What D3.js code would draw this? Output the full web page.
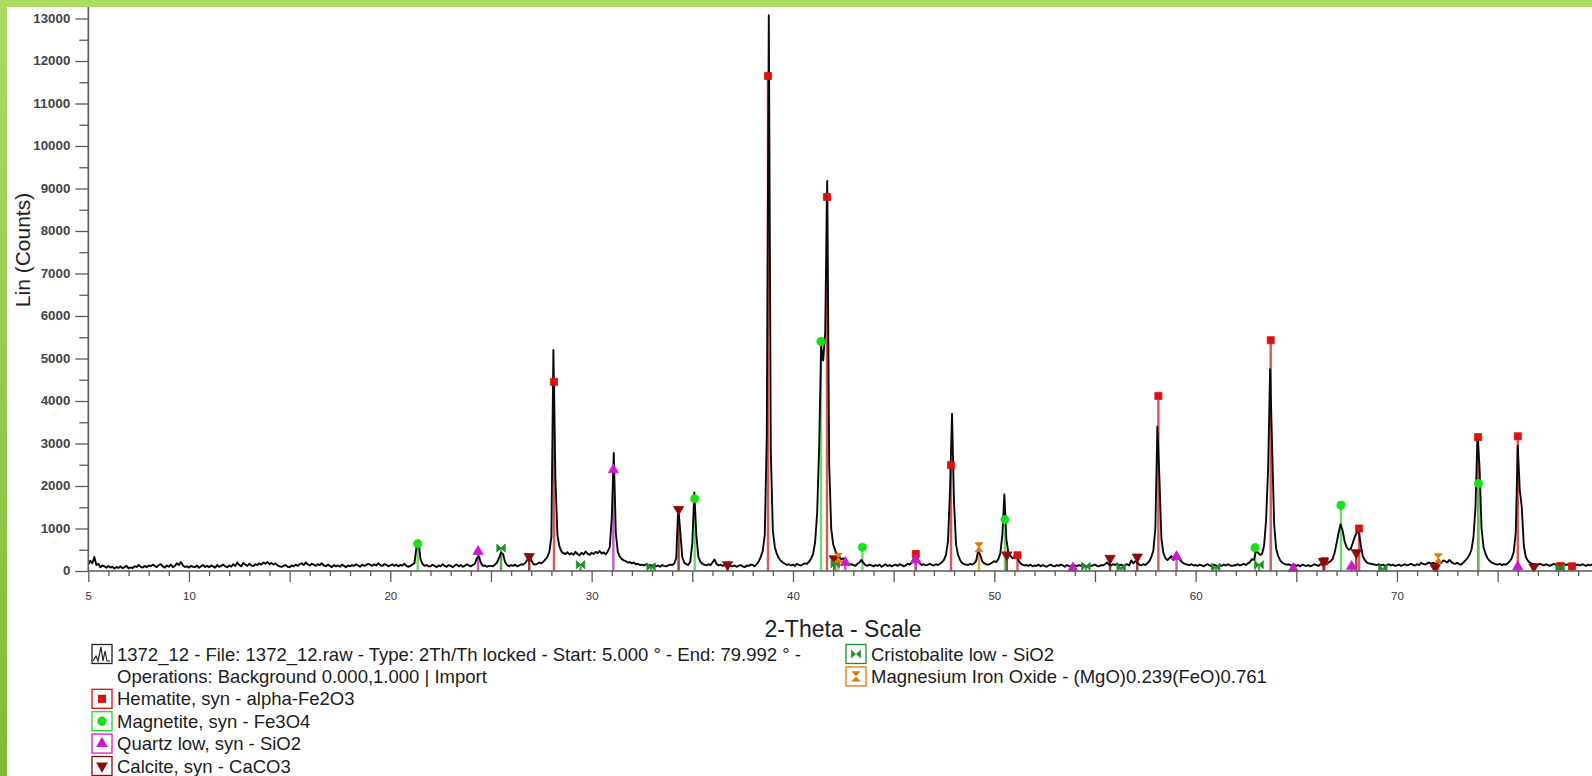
<!DOCTYPE html>
<html>
<head>
<meta charset="utf-8">
<script src="https://cdn.jsdelivr.net/npm/d3@7"></script>
<style>
html, body { margin: 0; padding: 0; background: #fff; overflow: hidden; }
svg { display: block; font-family: Arial, "Liberation Sans", sans-serif; }
</style>
</head>
<body>
<script>
// raw scan, 5.0 .. 80.0 deg 2-theta, 0.1 deg step (one row per degree)
var scanStart = 5.0, scanStep = 0.1;
var scanCounts = [
  150,240,180,330,140,170,90,130,110,75,
  120,80,100,60,95,70,110,65,90,120,
  60,85,70,110,95,140,100,80,120,90,
  130,110,150,120,90,140,160,110,80,130,
  100,150,90,120,180,140,210,130,95,110,
  80,120,100,90,130,75,110,140,95,120,
  90,130,110,80,140,100,120,150,110,90,
  130,100,160,120,200,140,110,190,150,120,
  170,130,120,160,140,180,150,200,170,210,
  160,190,150,180,130,110,95,120,140,100,
  90,130,110,150,120,160,180,140,200,160,
  130,170,150,120,160,140,180,130,110,150,
  120,90,140,110,130,100,150,120,90,130,
  110,140,120,160,130,100,150,120,140,170,
  150,120,160,130,180,140,120,160,150,110,
  130,160,120,150,110,140,130,170,120,100,
  120,150,190,560,720,280,170,120,140,110,
  110,150,120,90,130,110,160,120,100,140,
  120,90,130,150,110,140,100,120,160,130,
  110,140,170,300,350,190,120,130,100,120,
  120,110,150,200,310,430,400,210,140,110,
  140,120,150,110,130,160,150,190,260,380,
  250,170,150,170,200,180,220,270,330,450,
  800,5200,2200,850,580,460,420,400,440,390,
  420,380,450,400,370,430,390,460,410,380,
  430,400,450,420,470,410,440,390,460,560,
  1250,2780,900,450,340,280,250,230,200,210,
  180,200,160,170,140,150,130,160,120,140,
  120,150,110,130,100,140,120,110,130,150,
  140,170,300,1500,950,330,200,160,140,220,
  650,1850,850,340,220,170,150,130,160,140,
  200,270,170,130,150,120,140,110,130,120,
  110,130,100,120,140,110,90,130,120,150,
  140,110,160,230,330,480,850,3200,13080,2800,
  950,560,400,300,240,200,170,140,160,130,
  150,120,170,140,130,160,180,170,220,290,
  400,680,1350,2900,5300,4950,5600,9180,2500,1000,
  620,480,380,340,270,300,210,170,150,160,
  140,120,170,200,260,190,140,120,150,130,
  110,140,120,150,100,130,160,120,140,110,
  130,150,120,160,140,110,130,170,150,200,
  300,360,280,180,140,160,130,150,170,140,
  130,160,140,170,210,260,380,700,1900,3700,
  1600,620,380,260,190,160,150,140,170,150,
  180,240,480,380,230,180,160,150,170,200,
  230,210,280,420,850,1800,750,420,360,300,
  330,360,250,180,150,130,140,120,150,110,
  130,120,150,110,140,120,100,130,150,120,
  110,140,120,150,130,100,140,120,110,150,
  130,110,140,120,160,130,100,140,120,130,
  150,120,110,140,130,160,200,150,130,160,
  140,170,130,150,120,140,160,130,250,180,
  230,200,150,130,160,140,180,230,330,480,
  1000,3400,2200,760,420,300,260,300,350,260,
  300,340,280,220,180,160,150,140,160,130,
  140,120,150,130,110,140,160,130,120,150,
  130,110,140,120,150,130,160,140,120,130,
  140,160,130,150,170,140,180,210,280,260,
  480,430,380,400,600,1200,2400,4750,2900,1100,
  520,350,250,200,170,150,160,140,130,150,
  120,140,110,150,130,120,140,110,130,160,
  140,120,160,150,190,160,200,230,280,420,
  650,900,1100,950,700,560,500,520,650,800,
  900,950,620,350,260,200,180,170,160,150,
  140,160,130,150,120,140,160,130,150,120,
  130,150,120,140,160,130,150,170,140,130,
  160,140,190,170,150,180,200,170,190,160,
  180,220,190,250,230,200,260,210,180,170,
  190,160,150,200,250,300,380,500,800,1500,
  3200,2450,1000,560,400,300,240,200,180,160,
  150,170,140,160,150,180,230,300,450,900,
  2950,1900,1500,600,330,240,200,170,160,150,
  140,170,150,130,160,140,120,150,170,140,
  160,130,150,170,140,160,130,150,120,140,
  150,130,160,140,120,150,130,160,140,130,
  140
];

// phase reference sticks [2-theta, marker height]
var hematite = [[28.13,4450],[38.76,11650],[41.69,8800],[46.1,400],[47.85,2490],[51.15,370],[58.15,4120],[63.73,5430],[66.4,230],[68.12,1000],[74.03,3150],[76.0,3170],[78.1,120],[78.7,110]];
var magnetite = [[21.36,640],[35.12,1700],[41.39,5400],[43.45,560],[50.53,1210],[62.95,550],[67.22,1550],[74.05,2060]];
var quartz = [[24.36,460],[31.08,2380],[42.6,200],[46.1,260],[53.9,70],[59.05,340],[64.85,60],[67.75,110],[76.0,100]];
var calcite = [[26.9,340],[34.32,1450],[36.75,150],[42.05,290],[50.62,380],[55.75,300],[57.1,330],[66.35,230],[67.98,430],[71.9,80],[76.8,100]];
var cristobalite = [[25.5,540],[29.45,150],[32.95,100],[42.1,170],[54.55,110],[56.3,80],[61.0,90],[63.15,150],[69.3,60],[78.1,80]];
var mgFeOxide = [[42.25,310],[49.24,560],[72.05,300]];

var xTickLabels = [5, 10, 20, 30, 40, 50, 60, 70, 80];
var yTickLabels = [0,1000,2000,3000,4000,5000,6000,7000,8000,9000,10000,11000,12000,13000];

var scanLegend = ["1372_12 - File: 1372_12.raw - Type: 2Th/Th locked - Start: 5.000 ° - End: 79.992 ° -",
                  "Operations: Background 0.000,1.000 | Import"];

var W = 1592, H = 776;

var x = d3.scaleLinear().domain([5, 80]).range([88.3, 1598.3]);
var y = d3.scaleLinear().domain([0, 13000]).range([571, 18.5]);

var svg = d3.select("body").append("svg").attr("width", W).attr("height", H);
var defs = svg.append("defs");

var grad = defs.append("linearGradient").attr("id", "sideGreen")
    .attr("x1", 0).attr("y1", 0).attr("x2", 0).attr("y2", 1);
grad.append("stop").attr("offset", "0%").attr("stop-color", "#acdb62");
grad.append("stop").attr("offset", "100%").attr("stop-color", "#7fbb38");

defs.append("clipPath").attr("id", "plotClip").append("rect")
    .attr("x", x(5)).attr("y", 7).attr("width", W - x(5)).attr("height", y(0) - 7 + 1);

// frame strips
svg.append("rect").attr("x", 0).attr("y", 0).attr("width", 7).attr("height", H).attr("fill", "url(#sideGreen)");
svg.append("rect").attr("x", 0).attr("y", 0).attr("width", W).attr("height", 7).attr("fill", "#acdb62");

var phases = [
    {name: "Hematite, syn - alpha-Fe2O3", data: hematite, stick: "#d83a3a", mark: "#dc1010", sym: "square"},
    {name: "Magnetite, syn - Fe3O4", data: magnetite, stick: "#4fd84f", mark: "#18e018", sym: "circle"},
    {name: "Quartz low, syn - SiO2", data: quartz, stick: "#c23ac2", mark: "#d018d0", sym: "up"},
    {name: "Calcite, syn - CaCO3", data: calcite, stick: "#8e1e1e", mark: "#8b0a0a", sym: "down"},
    {name: "Cristobalite low - SiO2", data: cristobalite, stick: "#3a9a3a", mark: "#1f8f2a", sym: "bowtie"},
    {name: "Magnesium Iron Oxide - (MgO)0.239(FeO)0.761", data: mgFeOxide, stick: "#e8921e", mark: "#e07800", sym: "hourglass"}
];

function symbolPath(sym, s) {
    s = s || 1;
    if (sym === "square") return d3.symbol(d3.symbolSquare, 50 * s * s)();
    if (sym === "circle") return d3.symbol(d3.symbolCircle, 52 * s * s)();
    if (sym === "up") return d3.symbol(d3.symbolTriangle, 45 * s * s)();
    if (sym === "down") return d3.symbol(d3.symbolTriangle, 45 * s * s)();
    if (sym === "bowtie") {
        var a = 4.2 * s, b = 4 * s;
        return "M" + (-a) + "," + (-b) + "L0,0L" + (-a) + "," + b + "Z M" + a + "," + (-b) + "L0,0L" + a + "," + b + "Z";
    }
    var c = 4 * s, e = 4.5 * s;
    return "M" + (-c) + "," + (-e) + "H" + c + "L0,0Z M" + (-c) + "," + e + "H" + c + "L0,0Z";
}

var plot = svg.append("g").attr("clip-path", "url(#plotClip)");

// sticks
phases.forEach(function(p) {
    plot.append("g").selectAll("line").data(p.data).enter().append("line")
        .attr("x1", function(d) { return x(d[0]); })
        .attr("x2", function(d) { return x(d[0]); })
        .attr("y1", y(0))
        .attr("y2", function(d) { return y(d[1]); })
        .attr("stroke", p.stick)
        .attr("stroke-width", 2.4)
        .attr("opacity", 0.85);
});

// scan line
var scan = scanCounts.map(function(c, i) { return [scanStart + i * scanStep, c]; });
plot.append("path").datum(scan)
    .attr("fill", "none")
    .attr("stroke", "#0a0a0a")
    .attr("stroke-width", 1.9)
    .attr("stroke-linejoin", "round")
    .attr("d", d3.line().x(function(d) { return x(d[0]); }).y(function(d) { return y(d[1]); }));

// markers on top of sticks
phases.forEach(function(p) {
    plot.append("g").selectAll("path").data(p.data).enter().append("path")
        .attr("d", symbolPath(p.sym))
        .attr("transform", function(d) {
            return "translate(" + x(d[0]) + "," + y(d[1]) + ")" + (p.sym === "down" ? " rotate(180)" : "");
        })
        .attr("fill", p.mark)
        .attr("stroke", p.mark)
        .attr("stroke-width", 0.8);
});

// axes
var axisColor = "#5a5a5a";
svg.append("line").attr("x1", x(5)).attr("x2", x(5)).attr("y1", 7).attr("y2", y(0))
    .attr("stroke", axisColor).attr("stroke-width", 1.6);
svg.append("line").attr("x1", x(5)).attr("x2", W).attr("y1", y(0)).attr("y2", y(0))
    .attr("stroke", axisColor).attr("stroke-width", 1.6);

function styleAxis(g) {
    g.select(".domain").remove();
    g.selectAll(".tick line").attr("stroke", axisColor).attr("stroke-width", 1.3);
    g.selectAll("text").attr("fill", "#333").attr("font-family", "Arial, 'Liberation Sans', sans-serif");
}

var yMinor = d3.range(500, 13000, 1000);
svg.append("g").attr("transform", "translate(" + x(5) + ",0)")
    .call(d3.axisLeft(y).tickValues(yMinor).tickSize(9).tickFormat(""))
    .call(styleAxis);
svg.append("g").attr("transform", "translate(" + x(5) + ",0)")
    .call(d3.axisLeft(y).tickValues(yTickLabels).tickSize(13).tickPadding(5).tickFormat(d3.format("d")))
    .call(styleAxis)
    .call(function(g) {
        g.selectAll("text").attr("font-size", 12).attr("font-weight", "bold").attr("fill", "#444")
            .attr("textLength", function(d) { return String(d).length * 7.4; })
            .attr("lengthAdjust", "spacingAndGlyphs");
    });

var xMinor = d3.range(6, 80, 1).filter(function(v) { return v % 5 !== 0; });
var xMid = d3.range(5, 81, 5);
svg.append("g").attr("transform", "translate(0," + y(0) + ")")
    .call(d3.axisBottom(x).tickValues(xMinor).tickSize(5).tickFormat(""))
    .call(styleAxis);
svg.append("g").attr("transform", "translate(0," + y(0) + ")")
    .call(d3.axisBottom(x).tickValues(xMid).tickSize(11).tickFormat(""))
    .call(styleAxis);
svg.append("g").attr("transform", "translate(0," + y(0) + ")")
    .call(d3.axisBottom(x).tickValues(xTickLabels).tickSize(0).tickPadding(21).tickFormat(d3.format("d")))
    .call(styleAxis)
    .call(function(g) {
        g.selectAll("text").attr("font-size", 11.5).attr("fill", "#333");
    });

// axis titles
svg.append("text")
    .attr("transform", "translate(30,250) rotate(-90)")
    .attr("text-anchor", "middle")
    .attr("font-size", 21)
    .attr("fill", "#222")
    .text("Lin (Counts)");

svg.append("text")
    .attr("x", 843).attr("y", 637)
    .attr("text-anchor", "middle")
    .attr("font-size", 23)
    .attr("fill", "#222")
    .text("2-Theta - Scale");

// legend
var legendFont = 18.5, rowGap = 22.4, row0 = 654;
var legend = svg.append("g").attr("font-size", legendFont).attr("fill", "#1c1c1c");

function iconBox(g, cx, cy, color) {
    g.append("rect").attr("x", cx - 10).attr("y", cy - 9.5).attr("width", 20).attr("height", 19)
        .attr("fill", "#fff").attr("stroke", color).attr("stroke-width", 1.3);
}

// scan entry
var scanIcon = legend.append("g");
iconBox(scanIcon, 102, row0, "#222");
scanIcon.append("path")
    .attr("d", "M93," + (row0 + 7) + "L96," + (row0 + 2) + "L98," + (row0 + 7) + "L101," + (row0 - 7) +
        "L103," + (row0 + 7) + "L105," + (row0 - 3) + "L107," + (row0 + 7) + "L110," + (row0 + 7))
    .attr("fill", "none").attr("stroke", "#222").attr("stroke-width", 1.2);
scanLegend.forEach(function(t, i) {
    legend.append("text").attr("x", 117).attr("y", row0 + i * rowGap + 6.5).text(t);
});

phases.forEach(function(p, i) {
    var col = i < 4 ? 0 : 1;
    var r = i < 4 ? i + 2 : i - 4;
    var cx = col === 0 ? 102 : 856;
    var cy = row0 + r * rowGap;
    var g = legend.append("g");
    iconBox(g, cx, cy, p.mark);
    g.append("path").attr("d", symbolPath(p.sym, 1.15))
        .attr("transform", "translate(" + cx + "," + cy + ")" + (p.sym === "down" ? " rotate(180)" : ""))
        .attr("fill", p.mark);
    legend.append("text").attr("x", cx + 15).attr("y", cy + 6.5).text(p.name);
});
</script>
</body>
</html>
